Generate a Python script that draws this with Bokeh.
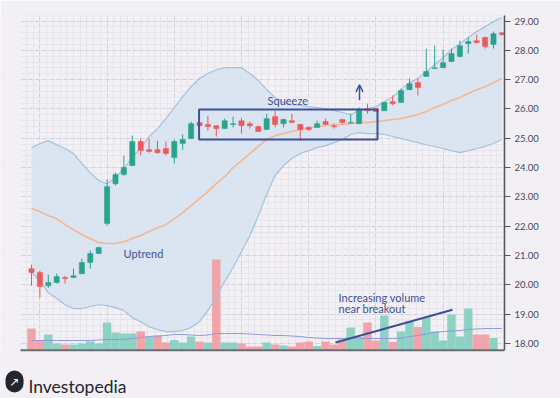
from bokeh.plotting import figure
from bokeh.models import (Range1d, FixedTicker, NumeralTickFormatter, Label, Arrow,
                          OpenHead, BoxAnnotation, ColumnDataSource)
from bokeh.embed import file_html
from bokeh.resources import INLINE

# ---------------- data ----------------
opens = [20.55, 20.42, 19.97, 20.08, 20.25, 20.25, 20.38, 20.76, 21.07, 22.09,
         23.45, 23.76, 24.07, 24.89, 24.61, 24.61, 24.65, 24.34, 24.82, 24.99,
         25.54, 25.47, 25.43, 25.33, 25.47, 25.60, 25.50, 25.40, 25.30, 25.74,
         25.50, 25.60, 25.47, 25.37, 25.37, 25.57, 25.43, 25.64, 25.52, 25.50,
         26.01, 26.01, 25.94, 26.25, 26.22, 26.66, 26.90, 27.11, 27.38, 27.41,
         27.62, 27.79, 28.23, 28.33, 28.44, 28.20, 28.60]
highs = [20.69, 20.48, 20.35, 20.38, 20.31, 20.55, 20.89, 21.17, 21.30, 23.60,
         23.83, 24.41, 25.09, 25.00, 25.00, 24.92, 24.89, 24.96, 25.13, 25.57,
         25.57, 25.77, 25.45, 25.67, 25.74, 25.70, 25.57, 25.43, 25.84, 25.94,
         25.67, 25.84, 25.50, 25.40, 25.60, 25.67, 25.50, 25.67, 25.84, 26.05,
         26.18, 26.03, 26.25, 26.46, 26.70, 27.04, 27.04, 28.06, 28.16, 28.03,
         28.06, 28.33, 28.44, 28.54, 28.47, 28.64, 28.62]
lows = [19.97, 19.56, 19.90, 20.04, 20.04, 20.24, 20.36, 20.55, 21.05, 22.02,
        23.39, 23.73, 24.05, 24.41, 24.51, 24.48, 24.41, 24.14, 24.61, 24.97,
        25.40, 25.26, 25.06, 25.33, 25.37, 25.16, 25.33, 25.23, 25.30, 25.37,
        25.37, 25.54, 24.92, 25.25, 25.37, 25.45, 25.33, 25.47, 25.50, 25.50,
        25.84, 25.90, 25.94, 26.12, 26.22, 26.66, 26.46, 27.10, 27.38, 27.40,
        27.60, 27.75, 27.89, 28.23, 28.06, 28.06, 28.50]
closes = [20.42, 19.94, 20.08, 20.28, 20.21, 20.31, 20.76, 21.07, 21.27, 23.35,
          23.76, 24.00, 24.89, 24.58, 24.55, 24.51, 24.48, 24.89, 24.96, 25.50,
          25.43, 25.40, 25.33, 25.60, 25.50, 25.43, 25.43, 25.23, 25.67, 25.47,
          25.64, 25.54, 25.30, 25.30, 25.50, 25.47, 25.40, 25.54, 25.54, 25.98,
          25.94, 25.91, 26.22, 26.18, 26.63, 26.87, 26.73, 27.28, 27.41, 27.58,
          27.89, 28.16, 28.30, 28.27, 28.13, 28.57, 28.54]

band_upper = [24.68, 24.82, 24.92, 24.78, 24.65, 24.48, 24.14, 23.83, 23.56, 23.45,
              23.66, 23.97, 24.34, 24.68, 25.06, 25.33, 25.67, 26.05, 26.42, 26.76,
              27.04, 27.21, 27.34, 27.41, 27.41, 27.41, 27.21, 26.97, 26.66, 26.39,
              26.22, 26.15, 26.12, 26.08, 26.05, 26.01, 25.95, 25.88, 25.81, 25.95,
              26.01, 26.08, 26.25, 26.42, 26.66, 26.90, 27.04, 27.28, 27.52, 27.75,
              28.03, 28.23, 28.44, 28.64, 28.81, 28.98, 29.12]
band_mid = [22.60, 22.50, 22.36, 22.26, 22.05, 21.88, 21.71, 21.58, 21.44, 21.41,
            21.41, 21.47, 21.58, 21.68, 21.82, 21.95, 22.05, 22.26, 22.46, 22.70,
            22.94, 23.18, 23.45, 23.69, 24.00, 24.24, 24.48, 24.72, 24.96, 25.09,
            25.16, 25.23, 25.30, 25.37, 25.40, 25.43, 25.47, 25.47, 25.50, 25.54,
            25.54, 25.57, 25.60, 25.64, 25.67, 25.74, 25.81, 25.91, 26.05, 26.15,
            26.29, 26.39, 26.53, 26.66, 26.76, 26.90, 27.04]
band_lower = [20.42, 20.14, 19.73, 19.53, 19.32, 19.19, 19.19, 19.26, 19.32, 19.29,
              19.22, 19.12, 18.88, 18.74, 18.57, 18.47, 18.40, 18.40, 18.44, 18.54,
              18.74, 19.12, 19.60, 20.11, 20.59, 21.13, 21.68, 22.36, 23.08, 23.73,
              24.07, 24.31, 24.48, 24.58, 24.68, 24.75, 24.85, 24.96, 25.13, 25.19,
              25.16, 25.16, 25.13, 25.06, 24.99, 24.92, 24.85, 24.78, 24.72, 24.65,
              24.58, 24.51, 24.58, 24.65, 24.72, 24.82, 24.96]

# volume in thousands of shares, and up/down flag of each volume bar
volume = [220, 100, 160, 70, 60, 60, 70, 90, 70, 280,
          180, 170, 170, 190, 135, 150, 80, 105, 80, 140,
          90, 80, 910, 80, 80, 70, 40, 40, 80, 60,
          50, 40, 80, 90, 45, 90, 60, 110, 230, 130,
          280, 100, 350, 85, 190, 295, 235, 330, 190, 100,
          360, 140, 420, 160, 160, 125, 0]
volume_up = ["d", "d", "u", "u", "d", "u", "u", "u", "u", "u",
             "u", "u", "u", "d", "u", "d", "d", "u", "u", "u",
             "d", "u", "d", "u", "u", "d", "d", "d", "u", "d",
             "u", "d", "d", "d", "u", "d", "d", "d", "u", "u",
             "d", "d", "u", "d", "u", "u", "d", "u", "u", "u",
             "u", "u", "u", "d", "d", "u", "u"]
volume_ma = [100, 100, 100, 100, 100, 100, 100, 100, 105, 110,
             110, 110, 120, 130, 140, 145, 150, 160, 160, 155,
             150, 155, 170, 170, 170, 170, 165, 160, 155, 150,
             150, 145, 140, 130, 125, 120, 120, 120, 125, 125,
             120, 120, 120, 120, 125, 140, 150, 165, 180, 190,
             195, 200, 210, 215, 220, 220, 220]

price_ticks = [18, 19, 20, 21, 22, 23, 24, 25, 26, 27, 28, 29]
time_grid = [1, 9, 17, 25, 33, 41, 49]
last_price = "28.54"

# ---------------- styles ----------------
BG = "#f2f0f5"
UP = "#29a38d"
DOWN = "#ec5a5a"
VOL_UP = "#88d0c3"
VOL_DOWN = "#f0a0a5"
NAVY = "#3d5296"
FONT = "Lato"
X0, X1 = -1.31, 56.31      # left / right edge of the chart area (candle index units)
Y0, Y1 = 17.76, 29.19      # bottom / top edge of the chart area (price)

idx = list(range(len(opens)))
candle_color = [UP if c >= o else DOWN for o, c in zip(opens, closes)]
src = ColumnDataSource(dict(
    x=idx, open=opens, high=highs, low=lows, close=closes,
    top=[max(o, c) for o, c in zip(opens, closes)],
    bottom=[min(o, c) for o, c in zip(opens, closes)],
    color=candle_color,
    up=band_upper, mid=band_mid, low_b=band_lower,
    vol=volume, vcolor=[VOL_UP if v == "u" else VOL_DOWN for v in volume_up],
    vma=volume_ma,
))

# the frame is extended to the left and bottom edges of the canvas so that the logo can live inside it
p = figure(width=560, height=398,
           x_range=Range1d(-3.69, X1), y_range=Range1d(16.12, Y1),
           y_axis_location="right", toolbar_location=None, output_backend="svg",
           min_border_left=0, min_border_right=56, min_border_top=15,
           min_border_bottom=0, background_fill_color=BG, border_fill_color=BG,
           outline_line_color=None)
p.extra_y_ranges = {"vol": Range1d(-480, 3350)}

# grids
p.xaxis.visible = False
p.xgrid.ticker = FixedTicker(ticks=time_grid,
                             minor_ticks=[t + k * 0.8 for t in range(-7, 57, 8) for k in range(10)])
p.ygrid.ticker = FixedTicker(ticks=price_ticks,
                             minor_ticks=[17.8 + k * 0.2 for k in range(58)])
for g in (p.xgrid, p.ygrid):
    g.grid_line_color = "#d3d1da"
    g.grid_line_dash = "4 3"
    g.grid_line_width = 1
    g.minor_grid_line_color = "#e7e5ec"
    g.minor_grid_line_width = 1

# right price axis
ax = p.yaxis[0]
ax.ticker = FixedTicker(ticks=price_ticks)
ax.bounds = (Y0, Y1)
ax.formatter = NumeralTickFormatter(format="0.00")
ax.axis_line_color = "#55555f"
ax.axis_line_width = 1.5
ax.major_tick_line_color = "#55555f"
ax.major_tick_out = 6
ax.major_tick_in = 0
ax.minor_tick_line_color = None
ax.major_label_standoff = 4
ax.major_label_text_font = FONT
ax.major_label_text_font_size = "9.5px"
ax.major_label_text_color = "#4a4a55"

# Bollinger band
p.varea(x="x", y1="low_b", y2="up", source=src, fill_color="#d9e3f0", fill_alpha=0.95)

# volume
p.vbar(x="x", width=1.0, bottom=0, top="vol", source=src, y_range_name="vol",
       fill_color="vcolor", line_color=None, fill_alpha=0.95)
p.line(x="x", y="vma", source=src, y_range_name="vol", line_color="#8e9bd8", line_width=1)

p.line(x="x", y="up", source=src, line_color="#a6c1dc", line_width=1.2)
p.line(x="x", y="low_b", source=src, line_color="#a6c1dc", line_width=1.2)
p.line(x="x", y="mid", source=src, line_color="#f4b792", line_width=1.6)

# candles
p.segment(x0="x", y0="high", x1="x", y1="low", source=src, line_color="color", line_width=1)
p.vbar(x="x", width=0.62, top="top", bottom="bottom", source=src,
       fill_color="color", line_color="color", line_width=0.5)

# plain background outside the chart area (hides the grid there)
p.add_layout(BoxAnnotation(top=Y0, fill_color=BG, fill_alpha=1, line_color=None))
p.add_layout(BoxAnnotation(right=X0, fill_color=BG, fill_alpha=1, line_color=None))

# baseline
p.add_layout(Arrow(end=None, x_start=X0, y_start=Y0 + 0.01, x_end=X1, y_end=Y0 + 0.01,
                   line_color="#6b6b73", line_width=2))

# annotations
p.add_layout(BoxAnnotation(left=19.95, right=41.19, bottom=24.96, top=25.98,
                           fill_alpha=0, line_color=NAVY, line_width=2, line_alpha=1))
p.add_layout(Arrow(end=OpenHead(size=7, line_color=NAVY, line_width=1.5),
                   x_start=39.05, y_start=26.30, x_end=39.05, y_end=26.82,
                   line_color=NAVY, line_width=1.5))
p.add_layout(Arrow(end=None, x_start=36.19, y_start=18.03, x_end=50.12, y_end=19.15,
                   line_color=NAVY, line_width=2))

for txt, xx, yy in [("Squeeze", 28.1, 26.29), ("Uptrend", 10.95, 21.06),
                    ("Increasing volume", 36.55, 19.56), ("near breakout", 36.55, 19.19)]:
    p.add_layout(Label(x=xx, y=yy, text=txt, text_font=FONT, text_font_size="11px",
                       text_color=NAVY, text_baseline="alphabetic"))

p.add_layout(Label(x=X1, y=28.54, text=last_price, x_offset=1, text_font=FONT,
                   text_font_size="9.5px", text_color="white", text_baseline="middle",
                   text_align="left", background_fill_color="#3b5394",
                   border_line_color="#dde3f5", border_line_dash="dotted",
                   padding=2))

# logo
p.add_layout(Label(x=-2.02, y=16.70, text="↗",
                   text_font="DejaVu Sans", text_font_size="12px",
                   text_color="white", text_align="center", text_baseline="middle",
                   background_fill_color="#25252f", border_radius=11, padding=4))
p.add_layout(Label(x=-0.36, y=16.52, text="Investopedia", text_font=FONT,
                   text_font_size="17.5px", text_color="#25252f", text_baseline="alphabetic"))

open("out.html", "w").write(file_html(p, INLINE))
